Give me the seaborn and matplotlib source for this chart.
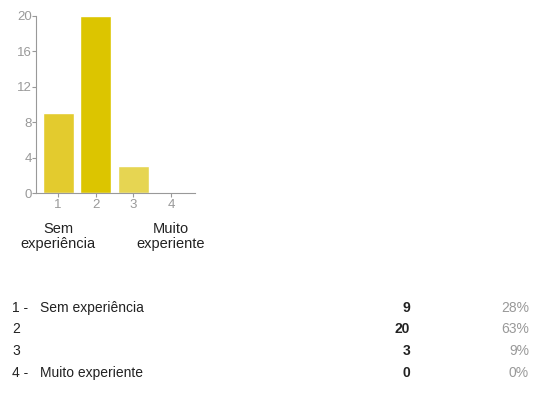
import matplotlib
matplotlib.use("Agg")
import matplotlib.pyplot as plt
import seaborn as sns
import pandas as pd

categories = ["1", "2", "3", "4"]
counts = [9, 20, 3, 0]
percents = ["28%", "63%", "9%", "0%"]
row_labels = ["1 -", "2", "3", "4 -"]
row_names = ["Sem experiência", "", "", "Muito experiente"]
bar_colors = ["#E3CB2E", "#DCC500", "#E6D552", "#E6D552"]
y_ticks = [0, 4, 8, 12, 16, 20]

sns.set_theme(style="white")
plt.rcParams['font.family'] = ['Liberation Sans', 'DejaVu Sans']

df = pd.DataFrame({"cat": categories, "n": counts})

fig = plt.figure(figsize=(5.44, 4.05), dpi=100)
ax = fig.add_axes([36/544, 1-193/405, (195-36)/544, (193-16)/405])
sns.barplot(data=df, x="cat", y="n", hue="cat", palette=bar_colors, order=categories,
            width=0.83, legend=False, ax=ax, saturation=1)
ax.set_xlim(-0.59, 3.64)
ax.set_ylim(0, 20)
ax.set_yticks(y_ticks)
ax.set_xlabel("")
ax.set_ylabel("")
for s in ["top", "right"]:
    ax.spines[s].set_visible(False)
for s in ["left", "bottom"]:
    ax.spines[s].set_color("#999999")
    ax.spines[s].set_linewidth(0.8)
ax.tick_params(axis="both", colors="#999999", labelcolor="#999999", labelsize=9.5,
               length=3, width=0.8, pad=1, left=True, bottom=True)
ax.tick_params(axis="y", pad=0)

# category end labels
ax.text(0, -0.165, "Sem\nexperiência", transform=ax.get_xaxis_transform(), ha="center", va="top",
        fontsize=10.5, color="#222222", linespacing=1.1)
ax.text(3, -0.165, "Muito\nexperiente", transform=ax.get_xaxis_transform(), ha="center", va="top",
        fontsize=10.5, color="#222222", linespacing=1.1)

# table below
row_y = [308, 329, 351, 373]
for lab, name, c, p, y in zip(row_labels, row_names, counts, percents, row_y):
    fy = 1 - y/405
    fig.text(12/544, fy, lab, ha="left", va="center", fontsize=10, color="#222222")
    if name:
        fig.text(40/544, fy, name, ha="left", va="center", fontsize=10, color="#222222")
    fig.text(410/544, fy, str(c), ha="right", va="center", fontsize=10, color="#222222", fontweight="bold")
    fig.text(529/544, fy, p, ha="right", va="center", fontsize=10, color="#999999")

fig.savefig("out.png", dpi=100)
